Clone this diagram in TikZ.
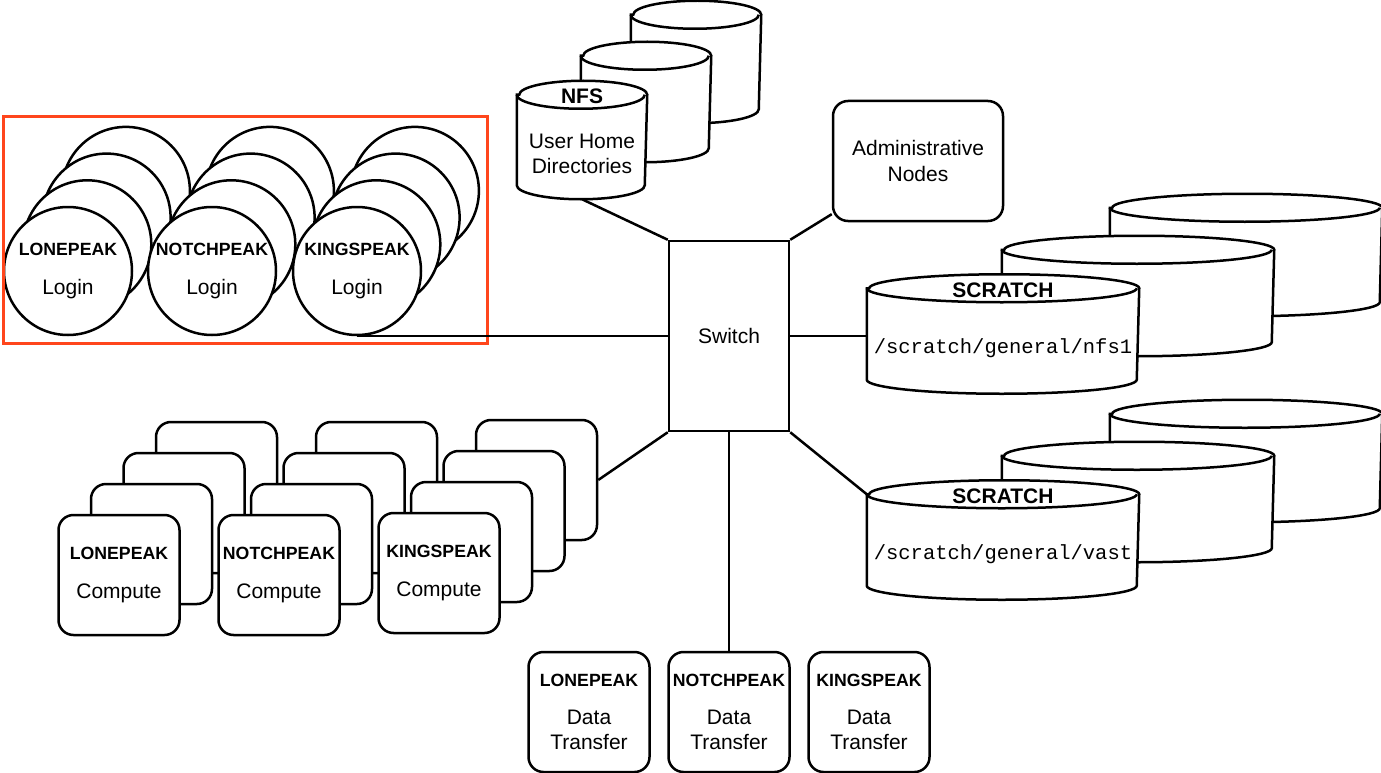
\documentclass[tikz,border=0pt]{standalone}
\usepackage{fontspec}
\setmainfont{Liberation Sans}
\setmonofont{Liberation Mono}
\usetikzlibrary{calc}
\definecolor{grpred}{RGB}{255,70,28}
\newcommand{\lbl}{\bfseries\fontsize{17.7}{25.5}\selectfont}
\newcommand{\hdr}{\bfseries\fontsize{21}{25.5}\selectfont}
\newcommand{\pth}{\ttfamily\fontsize{20.5}{25.5}\selectfont}
% name, x, y, width, height
\newcommand{\drawdisk}[5]{%
   \node[minimum width=#4pt, minimum height=#5pt] (#1) at (#2,#3) {};
   \draw[disk] ($(#1.north west)+(0,14)$) -- ($(#1.south west)+(0,-14)$)
      arc[start angle=180, end angle=360, x radius=#4pt/2, y radius=14pt]
      -- ($(#1.north east)+(0,14)$)
      arc[start angle=0, end angle=180, x radius=#4pt/2, y radius=14pt] -- cycle;
   \draw[link] ($(#1.north west)+(0,14)$)
      arc[start angle=180, end angle=360, x radius=#4pt/2, y radius=14pt];
}
\begin{document}
\begin{tikzpicture}[x=1pt,y=-1pt,
   every node/.style={font=\fontsize{21}{25.5}\selectfont, align=center, line width=2.5pt, inner sep=0pt},
   cbox/.style={draw, fill=white, rounded corners=15pt, minimum width=121pt, minimum height=120pt},
   login/.style={draw, fill=white, circle, minimum size=128pt},
   disk/.style={draw, fill=white, line width=2.5pt},
   grpbox/.style={draw=grpred, line width=3pt, minimum width=484pt, minimum height=226pt},
   link/.style={line width=2.5pt}]
   \useasboundingbox (0,0) rectangle (1381,773);
   % login nodes
   \foreach \nm/\x/\t in {lp/68/LONEPEAK, np/212/NOTCHPEAK, kp/357/KINGSPEAK}{
      \foreach \k in {3,2,1}
         \node[login] (\nm l\k) at (\x+19.3*\k, 271-26.7*\k) {};
      \node[login] (\nm l0) at (\x,271) {{\lbl \t}\\[13pt]Login};
   }
   \node[grpbox] (logins) at (245,230) {};
   % compute nodes
   \foreach \nm/\x/\y/\t in {lp/119/575/LONEPEAK, np/279/575/NOTCHPEAK, kp/439/573/KINGSPEAK}{
      \foreach \k in {3,2,1}
         \node[cbox] (\nm c\k) at (\x+32.5*\k, \y-31*\k) {};
      \node[cbox] (\nm c0) at (\x,\y) {{\lbl \t}\\[13pt]Compute};
   }
   % data transfer nodes
   \foreach \nm/\x/\t in {lp/589/LONEPEAK, np/729/NOTCHPEAK, kp/869/KINGSPEAK}
      \node[cbox] (\nm dt) at (\x,712) {{\lbl \t}\\[12pt]Data\\Transfer};
   % storage
   \drawdisk{nfs3}{696}{62}{128}{120}
   \drawdisk{nfs2}{646}{102}{128}{118}
   \drawdisk{nfs1}{582}{140}{128}{116}
   \node (nfslbl) at (582,96) {\hdr NFS};
   \node (nfstxt) at (582,154) {User Home\\Directories};
   \foreach \dy/\nm/\p in {0/s1/nfs1, 206/s2/vast}{
      \drawdisk{\nm c}{1246}{255+\dy}{270}{120}
      \drawdisk{\nm b}{1138}{296+\dy}{270}{118}
      \drawdisk{\nm a}{1003}{334+\dy}{270}{117}
      \node (\nm lbl) at (1003,290+\dy) {\hdr SCRATCH};
      \node (\nm txt) at (1003,348+\dy) {\pth /scratch/general/\p};
   }
   \node[cbox, minimum width=170pt] (adm) at (918,161) {Administrative\\Nodes};
   \node[draw, fill=white, minimum width=120pt, minimum height=190pt] (sw) at (729,336) {Switch};
   % links
   \draw[link] (sw.north west) -- (nfs1.south);
   \draw[link] (sw.north east) -- (adm);
   \draw[link] (sw.west) -- (sw.west -| kpl0.south);
   \draw[link] (sw.east) -- (sw.east -| s1a.west);
   \draw[link] (sw.south east) -- ($(s2a.north west)+(0,14)$);
   \draw[link] (sw.south west) -- (kpc3.east);
   \draw[link] (sw.south) -- (npdt.north);
\end{tikzpicture}
\end{document}
